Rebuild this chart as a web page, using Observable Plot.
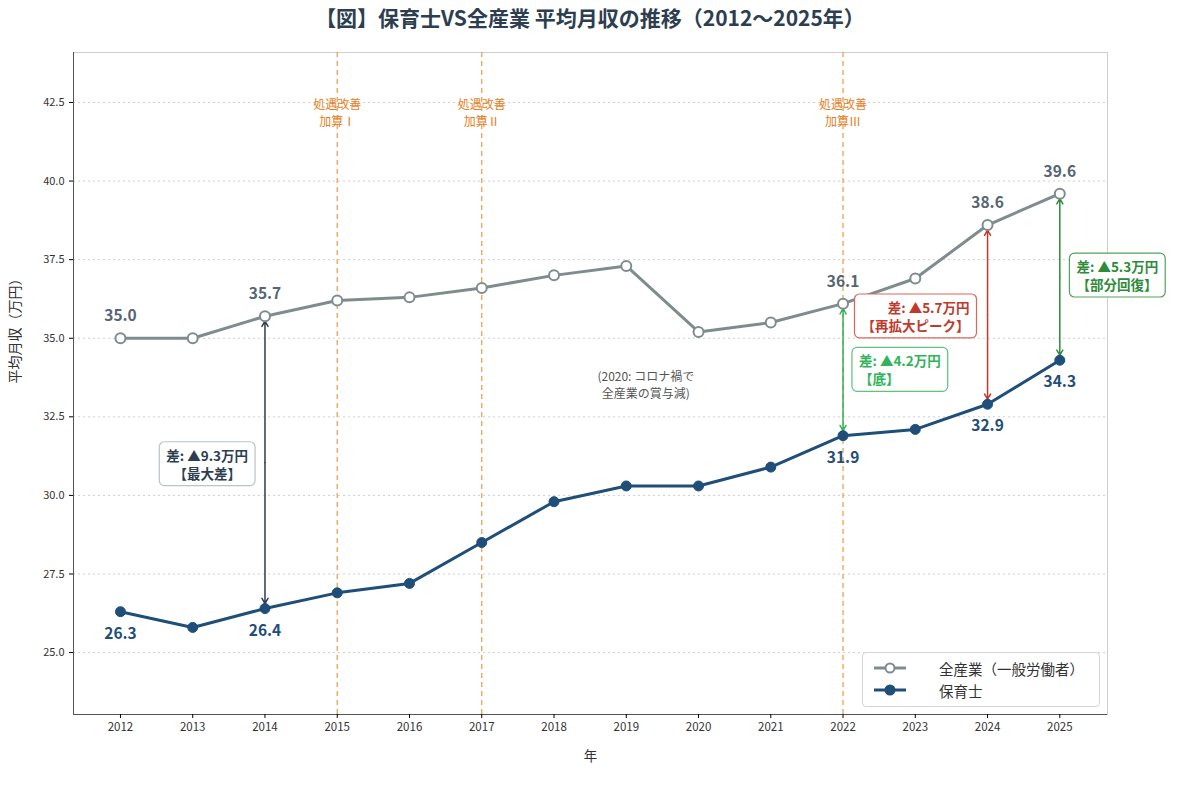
<!DOCTYPE html>
<html><head><meta charset="utf-8">
<script src="https://cdn.jsdelivr.net/npm/d3@7"></script>
<script src="https://cdn.jsdelivr.net/npm/@observablehq/plot@0.6"></script>
<style>
body{margin:0;background:#fff;font-family:"Noto Sans CJK JP","Noto Sans",sans-serif;}
#wrap{position:relative;width:1200px;height:787px;overflow:hidden;}
#title{position:absolute;left:0;top:0;width:1180px;height:36px;text-align:center;font-weight:bold;font-size:21px;line-height:34px;color:#2c3e50;}
#chart{position:absolute;left:0;top:36px;}
#legend{position:absolute;left:862px;top:652px;width:236px;height:53px;border:1px solid #d5d5d5;border-radius:4px;background:rgba(255,255,255,0.9);font-size:14.5px;color:#333;}
.li{position:absolute;left:10px;height:20px;display:flex;align-items:center;}
.li svg{margin-right:32px;}
</style></head>
<body>
<div id="wrap">
  <div id="title">【図】保育士VS全産業 平均月収の推移（2012〜2025年）</div>
  <div id="chart"></div>
  <div id="legend"></div>
</div>
<script>
// ---- data ----
const years = [2012,2013,2014,2015,2016,2017,2018,2019,2020,2021,2022,2023,2024,2025];
const allIndustry = [35.0,35.0,35.7,36.2,36.3,36.6,37.0,37.3,35.2,35.5,36.1,36.9,38.6,39.6];
const hoikushi   = [26.3,25.8,26.4,26.9,27.2,28.5,29.8,30.3,30.3,30.9,31.9,32.1,32.9,34.3];
const seriesNames = ["全産業（一般労働者）","保育士"];
const labelYears = [2012,2014,2022,2024,2025];
const yTicks = [25.0,27.5,30.0,32.5,35.0,37.5,40.0,42.5];
const policyYears = [2015,2017,2022];
const policyLabels = ["処遇改善\n加算Ⅰ","処遇改善\n加算Ⅱ","処遇改善\n加算Ⅲ"];
const policyLabelY = 42.2;
const gapYears = [2014,2022,2024,2025];
const gapTexts = ["差: ▲9.3万円\n【最大差】","差: ▲4.2万円\n【底】","差: ▲5.7万円\n【再拡大ピーク】","差: ▲5.3万円\n【部分回復】"];
const gapTextX = [2013.2,2022.22,2023.75,2025.23];
const gapTextY = [31.0,34.0,35.7,37.0];
const gapAnchors = ["middle","start","end","start"];
const gapColors = ["#2c3e50","#2fb45a","#c0392b","#2e8b3a"];
const gapBoxStroke = ["#b8c4cc","#5cc47f","#d9665a","#4fa35a"];
const noteText = "(2020: コロナ禍で\n全産業の賞与減)";
const noteX = 2019.27, noteY = 33.53;

const colAll = "#7f8c8d", colHoiku = "#1f4e79";
const rows = years.map((y,i)=>({year:y, all:allIndustry[i], hoiku:hoikushi[i]}));
const labelRows = rows.filter(d=>labelYears.includes(d.year));
const xDomain = [2011.35, 2025.66];
const yDomain = [23.03, 44.09];

const marks = [
  Plot.gridY(yTicks, {stroke:"#bbb", strokeDasharray:"2,3", strokeOpacity:0.7}),
  Plot.frame({stroke:"#cfcfcf"}),
  Plot.ruleX([xDomain[0]], {stroke:"#555"}),
  Plot.ruleY([yDomain[0]], {stroke:"#555"}),
  Plot.axisX(years, {tickFormat:d=>String(d), tickSize:4, tickPadding:4, fontSize:11.5, fill:"#333", label:null}),
  Plot.axisY(yTicks, {tickFormat:d=>d.toFixed(1), tickSize:4, tickPadding:5, fontSize:11, fill:"#333", label:null}),
  Plot.text(["平均月収（万円）"], {frameAnchor:"left", rotate:-90, dx:-58, fontSize:14, fill:"#333"}),
  Plot.text(["年"], {frameAnchor:"bottom", dy:46, fontSize:13.5, fill:"#333"}),
  Plot.ruleX(policyYears, {stroke:"#f0a050", strokeDasharray:"5,4", strokeWidth:1.3}),
  Plot.text(policyYears, {x:d=>d, y:()=>policyLabelY, text:(d,i)=>policyLabels[i], fill:"#e67e22", fontSize:12, lineHeight:1.4}),
  Plot.text([noteText], {x:()=>noteX, y:()=>noteY, text:d=>d, fill:"#555", fontSize:12, lineHeight:1.4}),
];
// gap arrows
gapYears.forEach((yr,i)=>{
  const r = rows.find(d=>d.year===yr);
  const mid = (r.all + r.hoiku)/2;
  const g = [r];
  marks.push(Plot.arrow(g, {x:"year", y1:()=>mid, y2:"all", stroke:gapColors[i], strokeWidth:1.5, headLength:6, insetEnd:5}));
  marks.push(Plot.arrow(g, {x:"year", y1:()=>mid, y2:"hoiku", stroke:gapColors[i], strokeWidth:1.5, headLength:6, insetEnd:5}));
});
marks.push(
  Plot.line(rows, {x:"year", y:"all", stroke:colAll, strokeWidth:3}),
  Plot.dot(rows, {x:"year", y:"all", r:5, fill:"white", stroke:colAll, strokeWidth:2}),
  Plot.line(rows, {x:"year", y:"hoiku", stroke:colHoiku, strokeWidth:3}),
  Plot.dot(rows, {x:"year", y:"hoiku", r:5, fill:colHoiku, stroke:colHoiku, strokeWidth:1}),
  Plot.text(labelRows, {x:"year", y:"all", text:d=>d.all.toFixed(1), dy:-22, fontSize:15.5, fontWeight:"bold", fill:"#566573"}),
  Plot.text(labelRows, {x:"year", y:"hoiku", text:d=>d.hoiku.toFixed(1), dy:22, fontSize:15.5, fontWeight:"bold", fill:colHoiku})
);
gapYears.forEach((yr,i)=>{
  marks.push(Plot.text([gapTexts[i]], {x:()=>gapTextX[i], y:()=>gapTextY[i], text:d=>d, textAnchor:gapAnchors[i], fill:gapColors[i], fontSize:13.5, fontWeight:"bold", lineHeight:1.32, ariaDescription:"gapbox-"+i}));
});

const chart = Plot.plot({
  width:1200, height:751,
  marginLeft:73, marginRight:93, marginTop:16, marginBottom:73,
  x:{domain:xDomain, axis:null},
  y:{domain:yDomain, axis:null},
  style:{fontFamily:'"Noto Sans CJK JP","Noto Sans",sans-serif', background:"transparent", overflow:"visible"},
  marks
});
document.getElementById("chart").appendChild(chart);

// boxes behind gap annotations
gapYears.forEach((yr,i)=>{
  chart.querySelectorAll(`g[aria-description="gapbox-${i}"] text`).forEach(t=>{
    const b = t.getBBox();
    const rect = document.createElementNS("http://www.w3.org/2000/svg","rect");
    rect.setAttribute("x", b.x-7); rect.setAttribute("y", b.y-3);
    rect.setAttribute("width", b.width+14); rect.setAttribute("height", b.height+6);
    rect.setAttribute("rx", 5);
    rect.setAttribute("fill", "white"); rect.setAttribute("stroke", gapBoxStroke[i]); rect.setAttribute("stroke-width", 1.2);
    if (t.getAttribute("transform")) rect.setAttribute("transform", t.getAttribute("transform"));
    t.parentNode.insertBefore(rect, t);
  });
});

// legend
const lg = document.getElementById("legend");
[[colAll,"white"],[colHoiku,colHoiku]].forEach(([s,f],i)=>{
  const d = document.createElement("div");
  d.className="li"; d.style.top = (5+i*22)+"px";
  d.innerHTML = `<svg width="34" height="12"><line x1="1" y1="6" x2="33" y2="6" stroke="${s}" stroke-width="3"/><circle cx="17" cy="6" r="4.5" fill="${f}" stroke="${s}" stroke-width="2"/></svg><span>${seriesNames[i]}</span>`;
  lg.appendChild(d);
});
</script>
</body></html>
